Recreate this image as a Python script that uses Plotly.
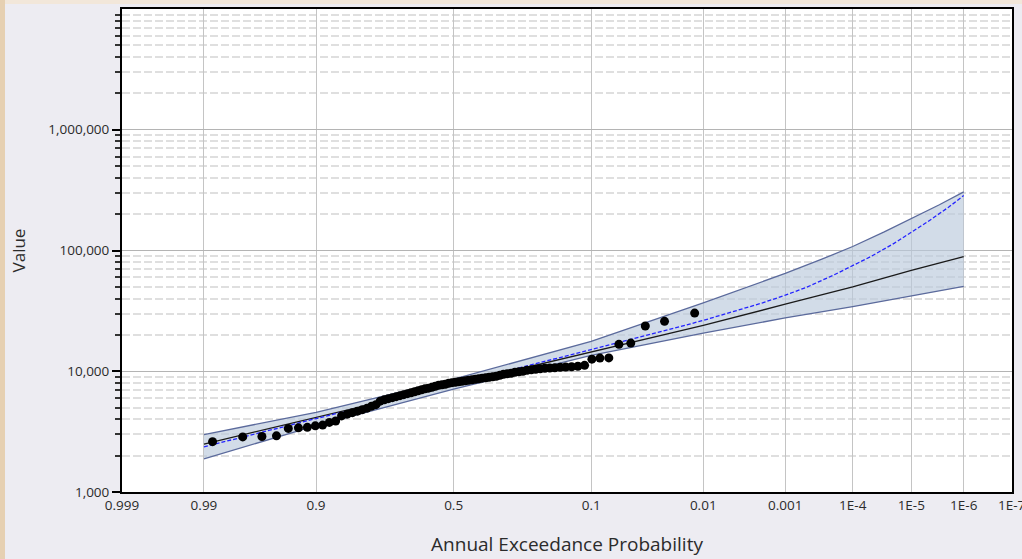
from statistics import NormalDist

import plotly.graph_objects as go

# ---- annual peak series (sorted, largest first) ----
peak_values = [
    30300, 25900, 23700, 17100, 16700, 12900, 12850, 12600, 11200, 11000,
    10890, 10850, 10790, 10690, 10650, 10590, 10490, 10390, 10290, 10190,
    10000, 9910, 9820, 9630, 9540, 9450, 9270, 9100, 9010, 8920,
    8840, 8760, 8670, 8590, 8510, 8430, 8350, 8270, 8190, 8110,
    8040, 7960, 7810, 7730, 7660, 7510, 7370, 7240, 7170, 7030,
    6900, 6770, 6640, 6520, 6400, 6280, 6160, 6040, 5930, 5810,
    5650, 5290, 5140, 4950, 4810, 4670, 4540, 4410, 4270, 3870,
    3770, 3580, 3530, 3430, 3400, 3360, 2920, 2880, 2860, 2610,
]

# ---- fitted frequency curve ----
fit_aep = [0.99, 0.9, 0.5, 0.1, 0.01, 0.001, 1e-4, 1e-5, 1e-6]
fit_values = [2495, 4140, 7710, 14290, 23990, 35890, 49890, 68390, 89130]

# ---- expected-probability curve ----
exp_aep = [0.99, 0.9, 0.5, 0.1, 0.05, 0.02, 0.01, 0.005, 0.002, 0.001,
           5e-4, 2e-4, 1e-4, 5e-5, 2e-5, 1e-5, 5e-6, 2e-6, 1e-6]
exp_values = [2366, 4055, 7727, 15066, 18280, 22700, 26363, 30620, 36810,
              42660, 49660, 62520, 74470, 89330, 115080, 141250, 172980,
              228030, 285100]

# ---- confidence limits ----
upper_aep = [0.99, 0.9, 0.5, 0.1, 0.01, 0.001, 3e-4, 1e-4, 3e-5, 1e-5,
             3e-6, 1e-6]
upper_values = [2985, 4571, 8590, 17701, 36813, 64570, 84720, 107900,
                142560, 182810, 239330, 306200]
lower_aep = [0.99, 0.9, 0.5, 0.1, 0.01, 0.001, 1e-4, 1e-5, 1e-6]
lower_values = [1884, 3548, 7096, 13552, 20654, 27669, 34277, 42073, 50350]

# ---- probability axis ticks ----
tick_aep = [0.999, 0.99, 0.9, 0.5, 0.1, 0.01, 0.001, 1e-4, 1e-5, 1e-6, 1e-7]
tick_labels = ["0.999", "0.99", "0.9", "0.5", "0.1", "0.01", "0.001",
               "1E-4", "1E-5", "1E-6", "1E-7"]

# ---- value axis ticks ----
major_values = [1000, 10000, 100000, 1000000]
major_labels = ["1,000", "10,000", "100,000", "1,000,000"]
minor_values = [m * 10 ** e for e in range(3, 7) for m in range(2, 10)]

nd = NormalDist()


def zscore(aep):
    """Normal-probability-paper coordinate of an exceedance probability."""
    return nd.inv_cdf(1.0 - aep)


n = len(peak_values)
peak_aep = [rank / (n + 1) for rank in range(1, n + 1)]  # Weibull positions

band_color = "#5b6a9c"
fig = go.Figure()

# confidence band fill
band_x = [zscore(p) for p in upper_aep] + [zscore(p) for p in lower_aep[::-1]]
band_y = upper_values + lower_values[::-1]
fig.add_trace(go.Scatter(
    x=band_x, y=band_y, mode="lines", fill="toself",
    fillcolor="rgba(186,202,219,0.65)", line=dict(width=0),
    hoverinfo="skip", showlegend=False,
))
fig.add_trace(go.Scatter(
    x=[zscore(p) for p in upper_aep], y=upper_values, mode="lines",
    line=dict(color=band_color, width=1.3), name="Upper limit",
))
fig.add_trace(go.Scatter(
    x=[zscore(p) for p in lower_aep], y=lower_values, mode="lines",
    line=dict(color=band_color, width=1.3), name="Lower limit",
))
fig.add_trace(go.Scatter(
    x=[zscore(p) for p in fit_aep], y=fit_values, mode="lines",
    line=dict(color="#1a1a1a", width=1.3), name="Computed curve",
))
fig.add_trace(go.Scatter(
    x=[zscore(p) for p in exp_aep], y=exp_values, mode="lines",
    line=dict(color="#2424ff", width=1.3, dash="4px,2px"),
    name="Expected probability",
))
fig.add_trace(go.Scatter(
    x=[zscore(p) for p in peak_aep], y=peak_values, mode="markers",
    marker=dict(color="black", size=9), name="Observed",
))

font_family = "Open Sans, Noto Sans, sans-serif"

fig.update_layout(
    width=1022, height=559,
    margin=dict(l=122, r=10, t=9, b=67, autoexpand=False),
    paper_bgcolor="#edecf2", plot_bgcolor="white",
    showlegend=False,
    font=dict(family=font_family, size=13.5, color="#2b2b2b"),
    shapes=[
        dict(type="rect", xref="paper", yref="paper", layer="below",
             x0=-0.13708, x1=-0.13146, y0=-0.1387, y1=1.01863,
             fillcolor="#e6d0b2", line=dict(width=0)),
        dict(type="rect", xref="paper", yref="paper", layer="below",
             x0=-0.13146, x1=1.01124, y0=1.0104, y1=1.01863,
             fillcolor="#f2e7da", line=dict(width=0)),
    ],
)

fig.update_xaxes(
    range=[zscore(0.999), zscore(1e-7) + 0.004],
    tickmode="array", tickvals=[zscore(p) for p in tick_aep],
    ticktext=tick_labels, ticks="", automargin=False,
    ticklabeloverflow="allow",
    showgrid=True, gridcolor="#c4c4c4", gridwidth=1,
    showline=True, linecolor="black", linewidth=2, mirror=True,
    zeroline=False,
    title=dict(text="Annual Exceedance Probability",
               font=dict(size=19, color="#2b2b2b"), standoff=24),
)

fig.update_yaxes(
    type="log", range=[3, 7],
    tickmode="array", tickvals=major_values, ticktext=major_labels,
    ticks="outside", ticklen=8, tickwidth=1.5, tickcolor="black",
    automargin=False,
    showgrid=True, gridcolor="#b4b4b4", gridwidth=1,
    minor=dict(tickmode="array", tickvals=minor_values, ticks="outside",
               ticklen=5, tickwidth=1.5, tickcolor="#333333",
               showgrid=True, gridcolor="#dfdfdf", griddash="8px,3px",
               gridwidth=1.5),
    showline=True, linecolor="black", linewidth=2, mirror=True,
    zeroline=False,
    title=dict(text="Value", font=dict(size=17, color="#2b2b2b"),
               standoff=18),
)

fig.write_html("out.html")
